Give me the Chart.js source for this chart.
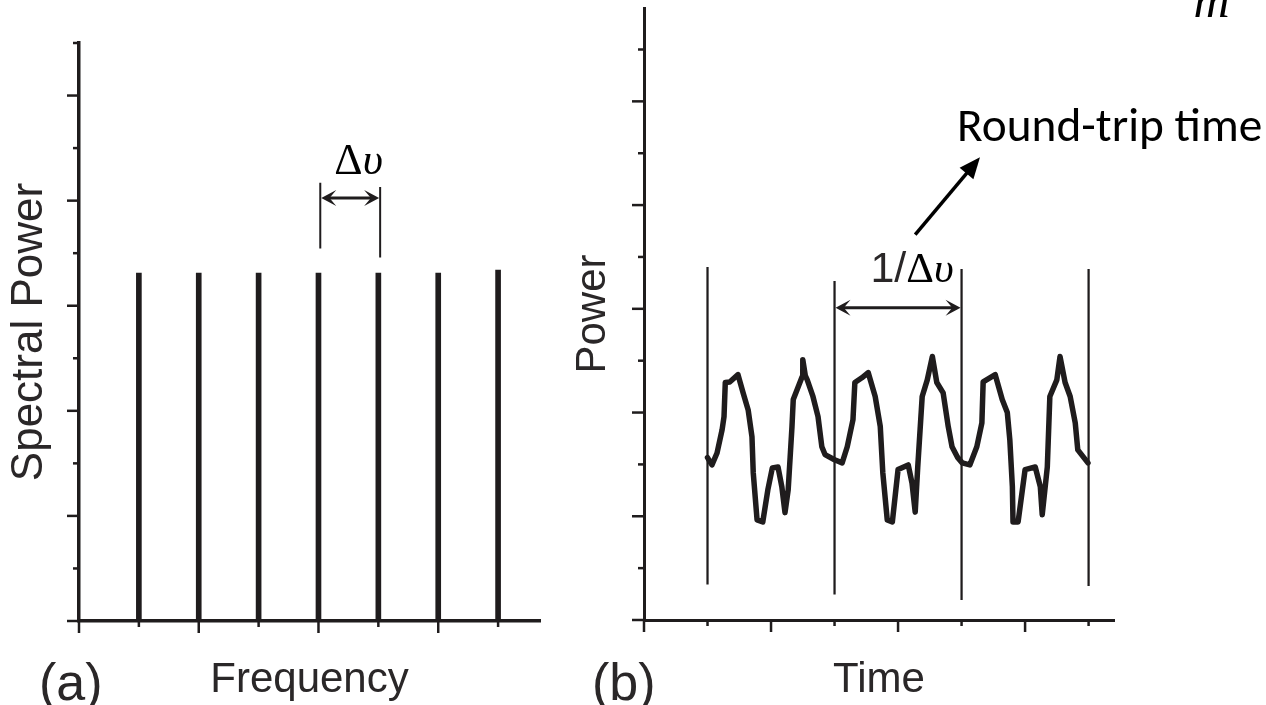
<!DOCTYPE html>
<html>
<head>
<meta charset="utf-8">
<script src="https://cdn.jsdelivr.net/npm/chart.js@4.4.1/dist/chart.umd.min.js"></script>
<style>
  html, body { margin: 0; padding: 0; background: #fff; }
  #wrap { position: relative; width: 1266px; height: 705px; overflow: hidden; }
  canvas { position: absolute; top: 0; }
  #chartA { left: 0; width: 560px; height: 705px; }
  #chartB { left: 560px; width: 706px; height: 705px; }
</style>
</head>
<body>
<div id="wrap">
  <canvas id="chartA" width="560" height="705"></canvas>
  <canvas id="chartB" width="706" height="705"></canvas>
</div>
<script>
// (a) comb lines
let combFreq = [1, 2, 3, 4, 5, 6, 7]
let combPower = [6.62, 6.62, 6.62, 6.62, 6.62, 6.62, 6.68]

// (b) measured trace, three round trips
let traceTime = [1.00, 1.07, 1.15, 1.23, 1.26, 1.28, 1.35, 1.48, 1.56, 1.64, 1.70, 1.72, 1.78, 1.87, 1.95, 2.02,
  2.11, 2.17, 2.22, 2.27, 2.33, 2.35, 2.43, 2.49, 2.50, 2.54, 2.57, 2.66, 2.74, 2.80, 2.85, 3.00,
  3.12, 3.20, 3.29, 3.32, 3.43, 3.53, 3.64, 3.72, 3.76, 3.83, 3.91, 4.00, 4.16, 4.22, 4.27, 4.31,
  4.38, 4.46, 4.54, 4.61, 4.71, 4.79, 4.85, 4.94, 5.01,
  5.13, 5.24, 5.32, 5.34, 5.53, 5.64, 5.72, 5.76, 5.80, 5.81, 5.89, 6.00, 6.16, 6.24, 6.27, 6.35,
  6.39, 6.50, 6.55, 6.63, 6.71, 6.79, 6.83, 6.99]
let tracePower = [3.13, 2.99, 3.22, 3.67, 3.92, 4.58, 4.59, 4.73, 4.38, 4.05, 3.53, 2.84, 1.93, 1.89, 2.51, 2.93,
  2.95, 2.57, 2.07, 2.51, 3.73, 4.25, 4.50, 4.69, 5.02, 4.71, 4.63, 4.31, 3.92, 3.34, 3.19, 3.09,
  3.03, 3.34, 3.86, 4.58, 4.67, 4.77, 4.31, 3.73, 2.84, 1.93, 1.89, 2.90, 2.99, 2.64, 2.08, 2.95,
  4.31, 4.63, 5.08, 4.58, 4.38, 3.73, 3.34, 3.13, 3.03,
  2.99, 3.34, 3.80, 4.59, 4.73, 4.25, 4.00, 3.47, 2.57, 1.89, 1.89, 2.90, 2.95, 2.57, 2.03, 2.95,
  4.31, 4.63, 5.08, 4.58, 4.31, 3.80, 3.28, 3.03]

// round-trip marker lines (b)
let markerTime = [1, 3, 5, 7]
let markerLow = [0.69, 0.50, 0.39, 0.66]
let markerHigh = [6.80, 6.53, 6.76, 6.76]

// tick marks
let ticksA_x = [0, 1, 2, 3, 4, 5, 6, 7]
let ticksA_y = [0, 1, 2, 3, 4, 5, 6, 7, 8, 9, 10, 11]
let ticksB_x = [0, 1, 2, 3, 4, 5, 6, 7]
let ticksB_y = [0, 1, 2, 3, 4, 5, 6, 7, 8, 9, 10, 11]

let ink = '#1f1c1d'
let textInk = '#2a2728'
let sans = '"Liberation Sans", Arial, Helvetica, sans-serif'
let serif = '"Liberation Serif", "DejaVu Serif", serif'


function arrowHead(ctx, x1, y1, x2, y2, len, half, notch) {
  let a = Math.atan2(y2 - y1, x2 - x1)
  let c = Math.cos(a), s = Math.sin(a)
  ctx.beginPath()
  ctx.moveTo(x2, y2)
  ctx.lineTo(x2 - len * c + half * s, y2 - len * s - half * c)
  ctx.lineTo(x2 - len * notch * c, y2 - len * notch * s)
  ctx.lineTo(x2 - len * c - half * s, y2 - len * s + half * c)
  ctx.closePath()
  ctx.fill()
}

function doubleArrow(ctx, xa, xb, y) {
  ctx.beginPath()
  ctx.moveTo(xa + 5, y)
  ctx.lineTo(xb - 5, y)
  ctx.stroke()
  arrowHead(ctx, xb, y, xa + 1, y, 15, 8, 0.55)
  arrowHead(ctx, xa, y, xb - 1, y, 15, 8, 0.55)
}

function drawTicks(ctx, chart, xs, ys, major, minor) {
  let sx = chart.scales.x, sy = chart.scales.y
  let a = chart.chartArea
  ctx.save()
  ctx.strokeStyle = ink
  ctx.lineWidth = 2.5
  ctx.lineCap = 'butt'
  xs.forEach(v => {
    let px = sx.getPixelForValue(v)
    let l = v % 2 === 0 ? major : minor
    ctx.beginPath()
    ctx.moveTo(px, a.bottom)
    ctx.lineTo(px, a.bottom + l)
    ctx.stroke()
  })
  ys.forEach(v => {
    let py = sy.getPixelForValue(v)
    let l = v % 2 === 0 ? major : minor
    ctx.beginPath()
    ctx.moveTo(a.left, py)
    ctx.lineTo(a.left - l, py)
    ctx.stroke()
  })
  ctx.restore()
}

// Δυ written as upright Δ + italic υ, centred on cx
function deltaNu(ctx, prefix, cx, baseY, size) {
  ctx.font = size + 'px ' + sans
  let w1 = prefix ? ctx.measureText(prefix).width : 0
  ctx.font = size + 'px ' + serif
  let w2 = ctx.measureText('Δ').width
  ctx.font = 'italic ' + size + 'px ' + serif
  let w3 = ctx.measureText('υ').width
  let x = cx - (w1 + w2 + w3) / 2
  ctx.textBaseline = 'alphabetic'
  ctx.textAlign = 'left'
  if (prefix) {
    ctx.fillStyle = textInk
    ctx.font = size + 'px ' + sans
    ctx.fillText(prefix, x, baseY)
  }
  ctx.fillStyle = '#000'
  ctx.font = size + 'px ' + serif
  ctx.fillText('Δ', x + w1, baseY)
  ctx.font = 'italic ' + size + 'px ' + serif
  ctx.fillText('υ', x + w1 + w2, baseY)
}


let overlayA = {
  id: 'overlayA',
  afterDraw(chart) {
    let ctx = chart.ctx
    let sx = chart.scales.x, sy = chart.scales.y
    drawTicks(ctx, chart, ticksA_x, ticksA_y, 12, 6)

    ctx.save()
    ctx.strokeStyle = ink
    ctx.fillStyle = ink
    ctx.lineWidth = 2
    // Δυ bracket
    let xl = sx.getPixelForValue(4.03), xr = sx.getPixelForValue(5.03)
    ctx.beginPath()
    ctx.moveTo(xl, sy.getPixelForValue(8.34)); ctx.lineTo(xl, sy.getPixelForValue(7.09))
    ctx.moveTo(xr, sy.getPixelForValue(8.26)); ctx.lineTo(xr, sy.getPixelForValue(6.92))
    ctx.stroke()
    ctx.lineWidth = 3
    doubleArrow(ctx, xl, xr, sy.getPixelForValue(8.05))
    deltaNu(ctx, '', sx.getPixelForValue(4.67), sy.getPixelForValue(8.51), 44)

    ctx.fillStyle = textInk
    ctx.font = '52px ' + sans
    ctx.textAlign = 'left'
    ctx.textBaseline = 'alphabetic'
    ctx.fillText('(a)', 39, 700)
    ctx.restore()
  }
}

let overlayB = {
  id: 'overlayB',
  afterDraw(chart) {
    let ctx = chart.ctx
    let sx = chart.scales.x, sy = chart.scales.y
    drawTicks(ctx, chart, ticksB_x, ticksB_y, 12, 6)

    ctx.save()
    ctx.strokeStyle = ink
    ctx.fillStyle = ink
    ctx.lineWidth = 3
    doubleArrow(ctx, sx.getPixelForValue(3), sx.getPixelForValue(5), sy.getPixelForValue(6.02))
    deltaNu(ctx, '1/', sx.getPixelForValue(4.22), sy.getPixelForValue(6.51), 43)

    // pointer to the label
    let x1 = sx.getPixelForValue(4.27), y1 = sy.getPixelForValue(7.43)
    let x2 = sx.getPixelForValue(5.29), y2 = sy.getPixelForValue(8.92)
    ctx.strokeStyle = '#000'
    ctx.fillStyle = '#000'
    ctx.lineWidth = 3.5
    ctx.beginPath()
    ctx.moveTo(x1, y1)
    ctx.lineTo(x1 + (x2 - x1) * 0.8, y1 + (y2 - y1) * 0.8)
    ctx.stroke()
    arrowHead(ctx, x1, y1, x2, y2, 21, 9, 1)

    let label = 'Round-trip time'
    ctx.font = '46px Carlito, Calibri, Lato, sans-serif'
    let fit = 46 * 305 / ctx.measureText(label).width
    ctx.font = fit.toFixed(1) + 'px Carlito, Calibri, Lato, sans-serif'
    ctx.textAlign = 'left'
    ctx.textBaseline = 'alphabetic'
    ctx.fillText(label, sx.getPixelForValue(4.93), sy.getPixelForValue(9.23))

    ctx.font = 'italic 50px ' + serif
    ctx.fillText('m', sx.getPixelForValue(8.65), sy.getPixelForValue(11.62))

    ctx.fillStyle = textInk
    ctx.font = '52px ' + sans
    ctx.fillText('(b)', 32, 700)
    ctx.restore()
  }
}


function axisOpts(min, max, title, size, pad) {
  return {
    type: 'linear',
    min: min,
    max: max,
    offset: false,
    grid: { display: false, drawTicks: false },
    border: { display: true, color: ink, width: 3.5 },
    ticks: { display: false },
    title: {
      display: true,
      text: title,
      color: textInk,
      font: { family: sans, size: size, lineHeight: 1 },
      padding: pad
    }
  }
}

let chartA = new Chart(document.getElementById('chartA'), {
  type: 'bar',
  data: {
    datasets: [{
      data: combFreq.map((f, i) => ({ x: f, y: combPower[i] })),
      backgroundColor: ink,
      barThickness: 5
    }]
  },
  options: {
    responsive: false,
    animation: false,
    layout: { padding: { left: 0, top: 43, right: 20, bottom: 0 } },
    plugins: { legend: { display: false }, tooltip: { enabled: false } },
    scales: {
      x: axisOpts(0, 7.7, 'Frequency', 42, { top: 38, bottom: 4 }),
      y: axisOpts(0, 11, 'Spectral Power', 44, { top: 8, bottom: 27 })
    }
  },
  plugins: [overlayA]
})

let optsB_x = axisOpts(0, 7.4, 'Time', 42, { top: 39, bottom: 4 })
let optsB_y = axisOpts(0, 11.8, 'Power', 42, { top: 12, bottom: 30 })
optsB_x.border.width = 3
optsB_y.border.width = 3

let chartB = new Chart(document.getElementById('chartB'), {
  type: 'line',
  data: {
    datasets: [{
      type: 'line',
      data: traceTime.map((t, i) => ({ x: t, y: tracePower[i] })),
      borderColor: ink,
      borderWidth: 5.5,
      borderJoinStyle: 'round',
      borderCapStyle: 'round',
      pointRadius: 0,
      tension: 0
    }, {
      type: 'bar',
      data: markerTime.map((t, i) => ({ x: t, y: [markerLow[i], markerHigh[i]] })),
      backgroundColor: ink,
      barThickness: 1.6
    }]
  },
  options: {
    responsive: false,
    animation: false,
    layout: { padding: { left: 0, top: 8, right: 152, bottom: 0 } },
    plugins: { legend: { display: false }, tooltip: { enabled: false } },
    scales: { x: optsB_x, y: optsB_y }
  },
  plugins: [overlayB]
})
</script>
</body>
</html>
